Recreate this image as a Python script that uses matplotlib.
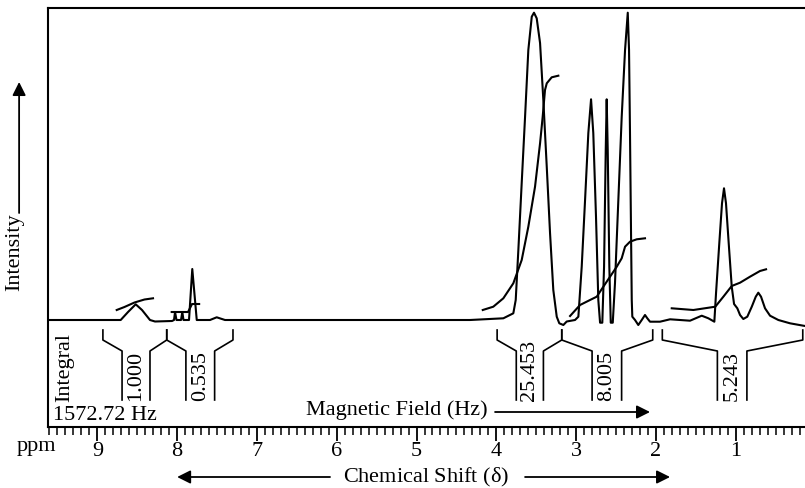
import matplotlib
matplotlib.use('Agg')
import matplotlib.pyplot as plt
import numpy as np

plt.rcParams['font.family'] = ['Liberation Serif', 'DejaVu Serif']

# spectrum trace (ppm, intensity)
ppm = [9.62, 8.707, 8.615, 8.519, 8.440, 8.340, 8.277, 8.064, 8.039, 8.026, 8.008,
       7.951, 7.935, 7.920, 7.851, 7.810, 7.754, 7.588, 7.504, 7.400, 4.330,
       3.912, 3.787, 3.757, 3.724, 3.682, 3.640, 3.599, 3.556, 3.528, 3.494,
       3.452, 3.411, 3.368, 3.327, 3.286, 3.243, 3.211, 3.160, 3.118, 3.014,
       2.972, 2.930, 2.888, 2.847, 2.813, 2.785, 2.751, 2.722, 2.700, 2.672,
       2.650, 2.629, 2.617, 2.604, 2.584, 2.566, 2.541, 2.513, 2.471, 2.429,
       2.387, 2.353, 2.337, 2.325, 2.312, 2.303, 2.296, 2.262, 2.221, 2.178,
       2.137, 2.108, 2.074, 1.949, 1.823, 1.573, 1.426, 1.343, 1.268, 1.247,
       1.206, 1.172, 1.147, 1.122, 1.088, 1.050, 1.021, 0.980, 0.946, 0.905,
       0.855, 0.799, 0.749, 0.717, 0.683, 0.633, 0.570, 0.466, 0.320, 0.153, 0.13]
intensity = [0, 0, 8, 15.7, 10, 0, -1.5, -1, 0, 8, 0,
             0, 8, 0, 0, 51, 0, 0, 2.7, 0, 0,
             1.7, 6.7, 20, 70, 137, 203, 270, 303.3, 307.3, 301.7,
             277, 220, 153, 87, 30, 3.3, -3.3, -5, -1.5, 0,
             3.3, 53.3, 120, 187, 220.7, 187, 103.3, 20, -2.7, -2.7,
             53.3, 170, 220.7, 170, 53.3, -2.7, -2.7, 37, 120, 203,
             270, 307.3, 270, 187, 87, 20, 3.3, 0, -5, 0,
             5, 1.7, -1.7, -1.7, 0.7, -0.7, 4.3, 1.7, -1.7, 26.7,
             76.7, 116.7, 131.7, 116.7, 76.7, 33.3, 16, 11.7, 5, 1,
             3.3, 13.3, 23.3, 27.3, 23.3, 11.7, 4.3, 0, -3.3, -5.7, -6]

# integral traces
int1_ppm = [8.757, 8.660, 8.534, 8.409, 8.302]
int1_y = [10, 13, 17.5, 20.5, 21.7]
int2_ppm = [8.068, 7.863, 7.813, 7.724]
int2_y = [8, 8, 16, 16]
int3_ppm = [4.170, 4.038, 3.912, 3.787, 3.682, 3.599, 3.515, 3.452, 3.419, 3.390, 3.368, 3.306, 3.223]
int3_y = [10, 13.3, 21.7, 36.7, 60, 93.3, 133.3, 176.7, 203.3, 230, 236.7, 242.7, 244.3]
int4_ppm = [3.076, 2.951, 2.826, 2.742, 2.659, 2.575, 2.491, 2.429, 2.387, 2.325, 2.241, 2.137]
int4_y = [4, 15, 20, 23.3, 33.3, 43.3, 53.3, 61.7, 73.3, 78.3, 80.7, 81.7]
int5_ppm = [1.802, 1.531, 1.256, 1.155, 1.050, 0.946, 0.821, 0.696, 0.620]
int5_y = [11.7, 10, 13.3, 23.3, 34, 37.3, 43.3, 49, 50.7]

# integral regions: outer left, inner left, inner right, outer right
reg_left = [8.93, 8.13, 3.99, 3.18, 1.92]
reg_in_left = [8.69, 7.89, 3.75, 2.80, 1.23]
reg_in_right = [8.34, 7.53, 3.41, 2.43, 0.86]
reg_right = [8.13, 7.30, 3.18, 2.04, 0.16]
reg_labels = ['1.000', '0.535', '25.453', '8.005', '5.243']

major_ticks = [9, 8, 7, 6, 5, 4, 3, 2, 1]

fig = plt.figure(figsize=(8.05, 4.88), dpi=100)
ax = fig.add_axes([48/805, 61/488, 757/805, 419/488])
ax.set_xlim(9.618, 0.132)
ax.set_ylim(-107, 312)

ax.plot(ppm, intensity, color='k', lw=1.5)
for xs, ys in [(int1_ppm, int1_y), (int2_ppm, int2_y), (int3_ppm, int3_y),
               (int4_ppm, int4_y), (int5_ppm, int5_y)]:
    ax.plot(xs, ys, color='k', lw=1.5)

# brackets under the peaks
for a, b, c, d, lab in zip(reg_left, reg_in_left, reg_in_right, reg_right, reg_labels):
    ax.plot([a, a, b, b], [-10, -20, -31, -80], color='k', lw=1.2)
    ax.plot([d, d, c, c], [-10, -20, -31, -80], color='k', lw=1.2)
    ax.text((b + c) / 2, -81, lab, rotation=90, ha='center', va='bottom', fontsize=16)

ax.text(9.404, -47, 'Integral', rotation=90, ha='center', va='center', fontsize=16)
ax.text(9.555, -95, '1572.72 Hz', ha='left', va='center', fontsize=16)

ax.text(5.25, -90, 'Magnetic Field (Hz)', ha='center', va='center', fontsize=16)
ax.annotate('', xy=(2.074, -92), xytext=(4.016, -92),
            arrowprops=dict(arrowstyle='-|>', mutation_scale=20, lw=1.3, color='k',
                            shrinkA=0, shrinkB=0))

ax.text(4.88, -157, r'Chemical Shift ($\mathregular{\delta}$)', ha='center', va='center',
        fontsize=16, clip_on=False)
ax.annotate('', xy=(8.0, -157), xytext=(6.084, -157), annotation_clip=False,
            arrowprops=dict(arrowstyle='-|>', mutation_scale=20, lw=1.3, color='k',
                            shrinkA=0, shrinkB=0))
ax.annotate('', xy=(1.823, -157), xytext=(3.64, -157), annotation_clip=False,
            arrowprops=dict(arrowstyle='-|>', mutation_scale=20, lw=1.3, color='k',
                            shrinkA=0, shrinkB=0))

ax.text(10.04, 68, 'Intensity', rotation=90, ha='center', va='center', fontsize=16,
        clip_on=False)
ax.annotate('', xy=(9.98, 238), xytext=(9.98, 107), annotation_clip=False,
            arrowprops=dict(arrowstyle='-|>', mutation_scale=20, lw=1.3, color='k',
                            shrinkA=0, shrinkB=0))

fig.text(36/805, 1 - 447/488, 'ppm', ha='center', va='center', fontsize=16)

ax.set_xticks(major_ticks)
ax.set_xticklabels([str(t) for t in major_ticks], fontsize=16)
ax.set_xticks(np.arange(2, 97) / 10, minor=True)
ax.set_yticks([])
ax.tick_params(axis='x', which='major', direction='out', length=10, width=1.3, pad=1)
ax.tick_params(axis='x', which='minor', direction='out', length=6, width=1.1)
ax.spines['right'].set_visible(False)
for s in ['top', 'left', 'bottom']:
    ax.spines[s].set_linewidth(1.5)

fig.savefig('out.png', dpi=100)
